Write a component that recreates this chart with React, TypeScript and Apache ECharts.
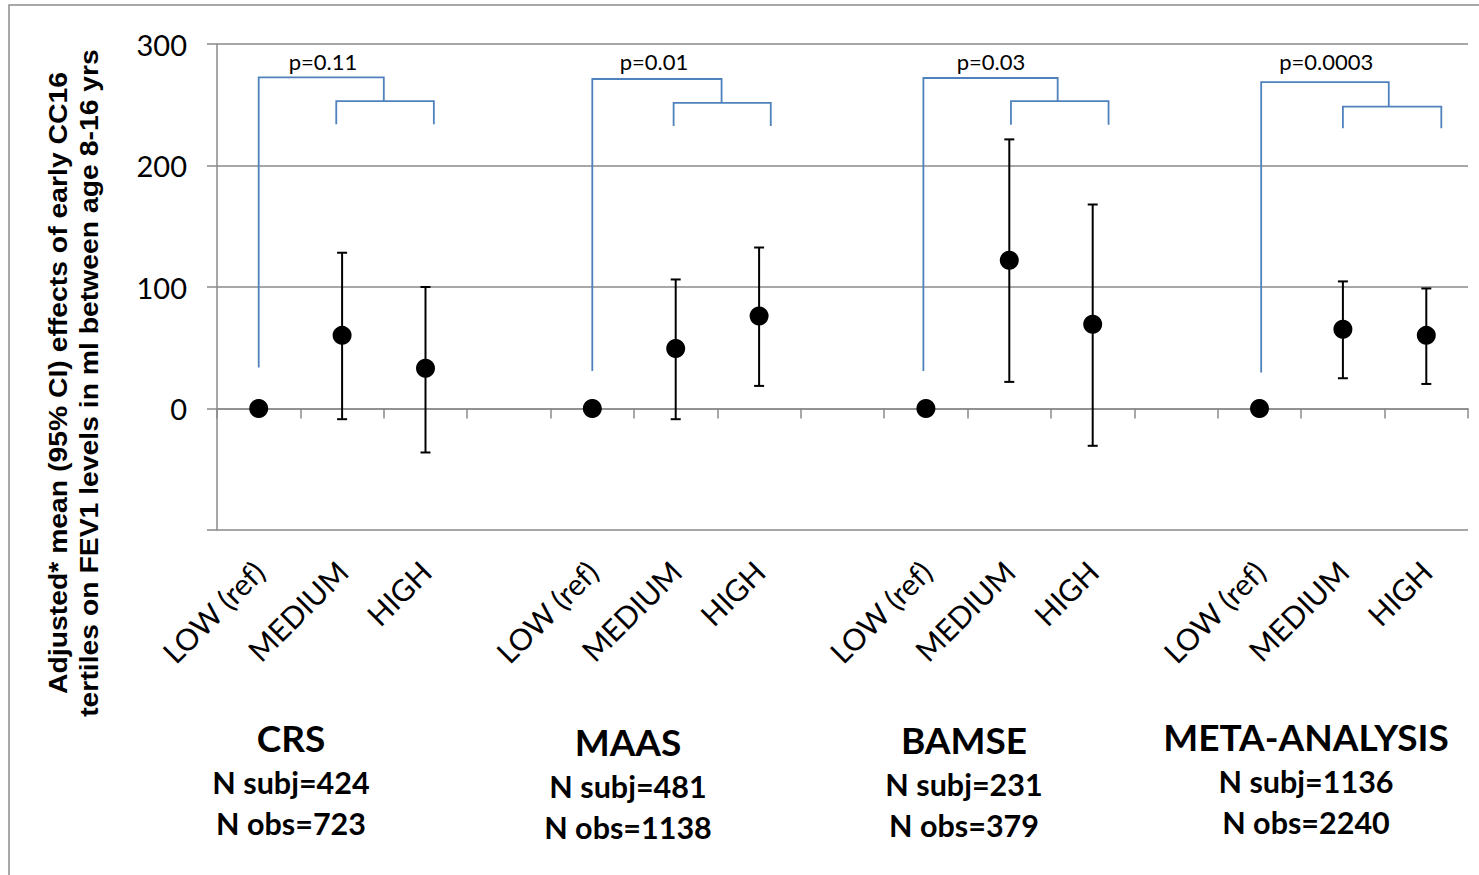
import React, { useEffect, useRef } from "react";
import * as echarts from "echarts";

// ---- data ----
const categories = [
  "LOW (ref)", "MEDIUM", "HIGH", "",
  "LOW (ref)", "MEDIUM", "HIGH", "",
  "LOW (ref)", "MEDIUM", "HIGH", "",
  "LOW (ref)", "MEDIUM", "HIGH",
];
const means = [0, 60.2, 33.1, null, 0, 49.3, 76.1, null, 0, 122.1, 69.3, null, 0, 65.2, 60.2];
const lowerCI = [null, -8.8, -36.2, null, null, -8.8, 18.6, null, null, 21.9, -30.7, null, null, 24.9, 20.2];
const upperCI = [null, 128.2, 100, null, null, 106.2, 132.5, null, null, 221.5, 167.9, null, null, 104.6, 98.8];

const yTicks = [-100, 0, 100, 200, 300];

// study groups
const groupNames = ["CRS", "MAAS", "BAMSE", "META-ANALYSIS"];
const groupSubj = ["N subj=424", "N subj=481", "N subj=231", "N subj=1136"];
const groupObs = ["N obs=723", "N obs=1138", "N obs=379", "N obs=2240"];
const groupStart = [0, 4, 8, 12];

// p-value brackets (category offsets relative to group start, y in data units)
const pLabels = ["p=0.11", "p=0.01", "p=0.03", "p=0.0003"];
const pLabelX = [0.77, 0.74, 0.78, 0.8];
const pLabelY = [286, 286, 286, 286];
const bracketRefX = [0, 0, -0.03, 0.02];
const bracketTopY = [272.5, 271.2, 272, 268.7];
const bracketLowY = [33.7, 30.9, 30.9, 29.6];
const bracketJoinX = [1.5, 1.55, 1.58, 1.55];
const bracketInnerY = [253, 251.5, 253, 248.5];
const bracketInnerL = [0.93, 0.975, 1.02, 1.0];
const bracketInnerR = [2.1, 2.14, 2.19, 2.18];
const bracketInnerEndY = [234, 232.5, 233.6, 230.6];

const yTitle =
  "Adjusted* mean (95% CI) effects of early CC16\ntertiles on FEV1 levels in ml between age 8-16 yrs";

export default function App() {
  const ref = useRef<HTMLDivElement>(null);

  useEffect(() => {
    if (!ref.current) return;
    const chart = echarts.init(ref.current, null, { renderer: "svg" });

    const pointData = means
      .map((v, i) => (v == null ? null : [i, v]))
      .filter((d) => d !== null);
    const errData = lowerCI
      .map((lo, i) => (lo == null ? null : [i, lo, upperCI[i]]))
      .filter((d) => d !== null);
    const bracketData = bracketTopY.map((y, g) => [groupStart[g], y]);

    const grey = "#8a8a8a";
    const blue = "#4f81bd";

    const graphics: any[] = [
      {
        type: "rect",
        shape: { x: 9, y: 5, width: 1490, height: 900 },
        style: { fill: "none", stroke: "#8c8c8c", lineWidth: 1.5 },
        silent: true,
      },
      {
        type: "text",
        x: 73,
        y: 383,
        rotation: Math.PI / 2,
        scaleX: 1.09,
        style: {
          text: yTitle,
          fontFamily: "Liberation Sans",
          fontWeight: "bold",
          fontSize: 26,
          lineHeight: 31,
          align: "center",
          verticalAlign: "middle",
          fill: "#000",
        },
      },
    ];
    const gx = [291, 628, 964, 1306];
    const gy = [737, 741, 739, 736];
    groupNames.forEach((name, g) => {
      graphics.push({
        type: "text",
        x: gx[g],
        y: gy[g],
        style: { text: name, fontFamily: "Lato", fontWeight: "bold", fontSize: 37, align: "center", verticalAlign: "middle", fill: "#000" },
      });
      graphics.push({
        type: "text",
        x: gx[g],
        y: gy[g] + 45,
        style: { text: groupSubj[g], fontFamily: "Lato", fontWeight: "bold", fontSize: 30.5, align: "center", verticalAlign: "middle", fill: "#000" },
      });
      graphics.push({
        type: "text",
        x: gx[g],
        y: gy[g] + 86,
        style: { text: groupObs[g], fontFamily: "Lato", fontWeight: "bold", fontSize: 30.5, align: "center", verticalAlign: "middle", fill: "#000" },
      });
    });

    chart.setOption({
      animation: false,
      backgroundColor: "#fff",
      grid: { left: 217, right: 11, top: 44, bottom: 345, containLabel: false },
      xAxis: [
        {
          type: "category",
          data: categories,
          position: "bottom",
          boundaryGap: true,
          axisLine: { show: false, onZero: false },
          axisTick: { show: false },
          axisLabel: {
            interval: 0,
            rotate: 45,
            margin: 36,
            fontFamily: "Lato",
            fontSize: 30,
            color: "#000",
          },
          splitLine: { show: false },
        },
        {
          type: "category",
          data: categories,
          position: "bottom",
          boundaryGap: true,
          axisLine: { show: true, onZero: true, lineStyle: { color: grey, width: 1.5 } },
          axisTick: { show: true, length: 10, alignWithLabel: false, interval: 0, lineStyle: { color: grey, width: 1.5 } },
          axisLabel: { show: false },
          splitLine: { show: false },
        },
      ],
      yAxis: {
        type: "value",
        min: yTicks[0],
        max: yTicks[yTicks.length - 1],
        interval: 100,
        axisLine: { show: true, lineStyle: { color: grey, width: 1.5 } },
        axisTick: { show: true, length: 10, lineStyle: { color: grey, width: 1.5 } },
        axisLabel: {
          margin: 30,
          fontFamily: "Lato",
          fontSize: 29,
          color: "#000",
          formatter: (v: number) => (v < 0 ? "" : String(v)),
        },
        splitLine: { show: true, lineStyle: { color: grey, width: 1.5 } },
      },
      graphic: graphics,
      series: [
        {
          type: "custom",
          name: "brackets",
          xAxisIndex: 0,
          yAxisIndex: 0,
          clip: false,
          z: 3,
          data: bracketData,
          encode: { x: 0, y: 1 },
          renderItem: (params: any, api: any) => {
            const g = params.dataIndex;
            const base = groupStart[g];
            const band = api.size([1, 0])[0];
            const P = (cx: number, y: number) => {
              const c = api.coord([0, y]);
              return [c[0] + (base + cx) * band, c[1]];
            };
            const style = { stroke: blue, lineWidth: 1.8, fill: "none" };
            const t = P(pLabelX[g], pLabelY[g]);
            return {
              type: "group",
              children: [
                {
                  type: "polyline",
                  shape: {
                    points: [
                      P(bracketRefX[g], bracketLowY[g]),
                      P(bracketRefX[g], bracketTopY[g]),
                      P(bracketJoinX[g], bracketTopY[g]),
                      P(bracketJoinX[g], bracketInnerY[g]),
                    ],
                  },
                  style,
                },
                {
                  type: "polyline",
                  shape: {
                    points: [
                      P(bracketInnerL[g], bracketInnerEndY[g]),
                      P(bracketInnerL[g], bracketInnerY[g]),
                      P(bracketInnerR[g], bracketInnerY[g]),
                      P(bracketInnerR[g], bracketInnerEndY[g]),
                    ],
                  },
                  style,
                },
                {
                  type: "text",
                  x: t[0],
                  y: t[1],
                  style: {
                    text: pLabels[g],
                    fontFamily: "Lato",
                    fontSize: 22,
                    align: "center",
                    verticalAlign: "middle",
                    fill: "#000",
                  },
                },
              ],
            };
          },
        },
        {
          type: "custom",
          name: "CI",
          xAxisIndex: 0,
          yAxisIndex: 0,
          z: 4,
          data: errData,
          encode: { x: 0, y: [1, 2] },
          renderItem: (params: any, api: any) => {
            const x = api.value(0);
            const lo = api.coord([x, api.value(1)]);
            const hi = api.coord([x, api.value(2)]);
            const cap = 5;
            const st = { stroke: "#000", lineWidth: 2 };
            return {
              type: "group",
              children: [
                { type: "line", shape: { x1: lo[0], y1: lo[1], x2: hi[0], y2: hi[1] }, style: st },
                { type: "line", shape: { x1: lo[0] - cap, y1: lo[1], x2: lo[0] + cap, y2: lo[1] }, style: st },
                { type: "line", shape: { x1: hi[0] - cap, y1: hi[1], x2: hi[0] + cap, y2: hi[1] }, style: st },
              ],
            };
          },
        },
        {
          type: "scatter",
          name: "mean",
          xAxisIndex: 0,
          yAxisIndex: 0,
          z: 5,
          symbol: "circle",
          symbolSize: 19,
          itemStyle: { color: "#000", opacity: 1 },
          data: pointData,
        },
      ],
    });

    return () => chart.dispose();
  }, []);

  return (
    <div
      ref={ref}
      style={{ position: "fixed", left: 0, top: 0, width: 1479, height: 875 }}
    />
  );
}
